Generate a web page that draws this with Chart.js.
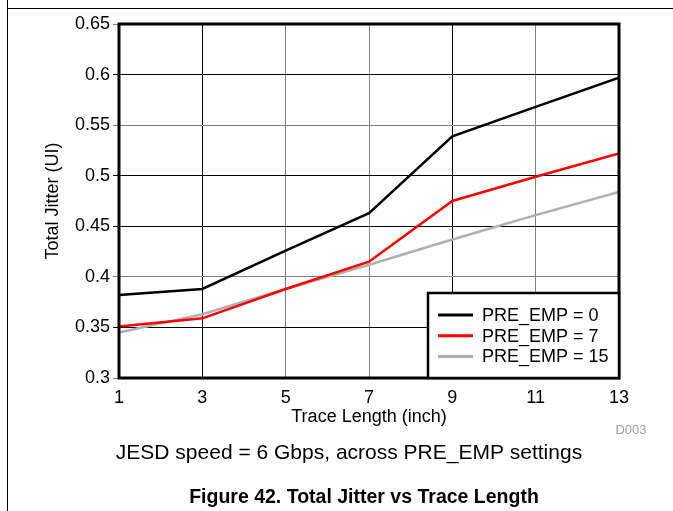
<!DOCTYPE html>
<html>
<head>
<meta charset="utf-8">
<script src="https://cdn.jsdelivr.net/npm/chart.js@4.4.1/dist/chart.umd.min.js"></script>
<style>
  html, body { margin: 0; padding: 0; background: #fff; }
  #wrap { position: relative; width: 673px; height: 511px; }
</style>
</head>
<body>
<div id="wrap"><canvas id="chart"></canvas></div>
<script>
// values
const traceLength = [1, 3, 5, 7, 9, 11, 13]
const preEmp0 = [0.382, 0.388, 0.426, 0.463, 0.539, 0.568, 0.597]
const preEmp7 = [0.351, 0.359, 0.388, 0.415, 0.475, 0.499, 0.522]
const preEmp15 = [0.345, 0.363, 0.388, 0.412, 0.437, 0.461, 0.484]
const seriesLabels = ['PRE_EMP = 0', 'PRE_EMP = 7', 'PRE_EMP = 15']
const xTitle = 'Trace Length (inch)'
const yTitle = 'Total Jitter (UI)'
const caption = 'JESD speed = 6 Gbps, across PRE_EMP settings'
const figTitle = 'Figure 42. Total Jitter vs Trace Length'
const figId = 'D003'

const FONT = '"Liberation Sans", Arial, sans-serif'

function points(ys) {
  return traceLength.map((x, i) => ({x: x, y: ys[i]}))
}

// grid lines that look crisp black vs soft gray in the reference
const blackX = [3, 9]
const blackY = [0.6, 0.5, 0.45, 0.35]

const decor = {
  id: 'decor',
  beforeDraw(chart) {
    const ctx = chart.ctx
    ctx.save()
    ctx.strokeStyle = '#000'
    ctx.lineWidth = 1
    ctx.beginPath()
    ctx.moveTo(7.5, 0)
    ctx.lineTo(7.5, 511)
    ctx.moveTo(7, 8.5)
    ctx.lineTo(673, 8.5)
    ctx.stroke()
    ctx.restore()
  },
  afterDatasetsDraw(chart) {
    const ctx = chart.ctx
    const a = chart.chartArea
    ctx.save()
    ctx.strokeStyle = '#000'
    ctx.lineWidth = 3
    ctx.strokeRect(a.left, a.top, a.right - a.left, a.bottom - a.top)

    // legend box in the lower right corner
    const lx = 428, ly = 293
    ctx.fillStyle = '#fff'
    ctx.fillRect(lx, ly, a.right - lx, a.bottom - ly)
    ctx.lineWidth = 2.5
    ctx.strokeRect(lx, ly, a.right - lx, a.bottom - ly)
    ctx.font = '18px ' + FONT
    ctx.textBaseline = 'middle'
    chart.data.datasets.forEach((ds, i) => {
      const y = 315 + i * 20.7
      ctx.strokeStyle = ds.borderColor
      ctx.lineWidth = 3
      ctx.beginPath()
      ctx.moveTo(438, y)
      ctx.lineTo(473, y)
      ctx.stroke()
      ctx.fillStyle = '#000'
      ctx.fillText(ds.label, 482, y + 1)
    })

    // texts below the plot
    ctx.textAlign = 'center'
    ctx.fillStyle = '#000'
    ctx.font = '21px ' + FONT
    ctx.fillText(caption, 349, 453)
    ctx.font = 'bold 19.5px ' + FONT
    ctx.fillText(figTitle, 364, 498)
    ctx.font = '13px ' + FONT
    ctx.fillStyle = '#a0a0a0'
    ctx.fillText(figId, 631, 430)
    ctx.restore()
  }
}

new Chart(document.getElementById('chart').getContext('2d'), {
  type: 'line',
  data: {
    datasets: [
      {label: seriesLabels[0], data: points(preEmp0), borderColor: '#000000'},
      {label: seriesLabels[1], data: points(preEmp7), borderColor: '#ff0000'},
      {label: seriesLabels[2], data: points(preEmp15), borderColor: '#b0b0b0'},
    ].map(d => Object.assign(d, {borderWidth: 2.5, pointRadius: 0, fill: false, tension: 0}))
  },
  options: {
    responsive: true,
    maintainAspectRatio: false,
    animation: false,
    layout: {padding: {top: 24, right: 54, bottom: 83, left: 0}},
    plugins: {legend: {display: false}, tooltip: {enabled: false}},
    scales: {
      x: {
        type: 'linear',
        min: 1,
        max: 13,
        afterFit: s => { s.height = 50 },
        ticks: {stepSize: 2, color: '#000', padding: 9, font: {family: FONT, size: 18}},
        grid: {
          drawTicks: false,
          color: c => blackX.includes(c.tick.value) ? '#000' : '#808080',
        },
        border: {display: false},
        title: {display: true, text: xTitle, color: '#000', padding: 0, font: {family: FONT, size: 18}},
      },
      y: {
        min: 0.3,
        max: 0.65,
        afterFit: s => { s.width = 119 },
        ticks: {
          stepSize: 0.05,
          color: '#000',
          padding: 3,
          font: {family: FONT, size: 18},
          callback: v => String(Number(v.toFixed(2))),
        },
        grid: {
          tickLength: 6,
          color: c => blackY.some(b => Math.abs(b - c.tick.value) < 1e-6) ? '#000' : '#808080',
        },
        border: {display: false},
        title: {display: true, text: yTitle, color: '#000', padding: {top: 42, bottom: 0}, font: {family: FONT, size: 18}},
      },
    },
  },
  plugins: [decor],
})
</script>
</body>
</html>
